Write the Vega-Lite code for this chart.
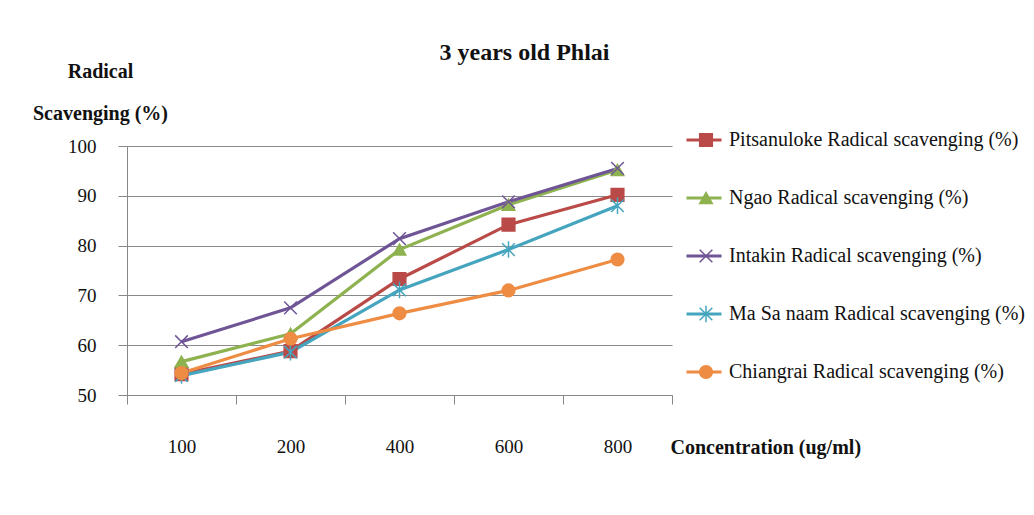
{
  "$schema": "https://vega.github.io/schema/vega-lite/v6.json",
  "width": 545,
  "height": 249,
  "autosize": {"type": "none"},
  "padding": {"left": 127, "top": 146, "right": 362, "bottom": 120},
  "background": "white",
  "config": {
    "view": {"stroke": null},
    "font": "Liberation Serif"
  },
  "title": {
    "text": "3 years old Phlai",
    "font": "Liberation Serif",
    "fontSize": 24,
    "fontWeight": "bold",
    "color": "#111",
    "anchor": "middle",
    "dx": 125,
    "offset": -4
  },
  "data": {
    "values": [
      {"conc": "100", "site": "Pitsanuloke", "series": "Pitsanuloke Radical scavenging (%)", "value": 54.2},
      {"conc": "200", "site": "Pitsanuloke", "series": "Pitsanuloke Radical scavenging (%)", "value": 58.8},
      {"conc": "400", "site": "Pitsanuloke", "series": "Pitsanuloke Radical scavenging (%)", "value": 73.3},
      {"conc": "600", "site": "Pitsanuloke", "series": "Pitsanuloke Radical scavenging (%)", "value": 84.2},
      {"conc": "800", "site": "Pitsanuloke", "series": "Pitsanuloke Radical scavenging (%)", "value": 90.2},
      {"conc": "100", "site": "Ngao", "series": "Ngao Radical scavenging (%)", "value": 56.7},
      {"conc": "200", "site": "Ngao", "series": "Ngao Radical scavenging (%)", "value": 62.3},
      {"conc": "400", "site": "Ngao", "series": "Ngao Radical scavenging (%)", "value": 79.2},
      {"conc": "600", "site": "Ngao", "series": "Ngao Radical scavenging (%)", "value": 88.2},
      {"conc": "800", "site": "Ngao", "series": "Ngao Radical scavenging (%)", "value": 95.2},
      {"conc": "100", "site": "Intakin", "series": "Intakin Radical scavenging (%)", "value": 60.7},
      {"conc": "200", "site": "Intakin", "series": "Intakin Radical scavenging (%)", "value": 67.5},
      {"conc": "400", "site": "Intakin", "series": "Intakin Radical scavenging (%)", "value": 81.4},
      {"conc": "600", "site": "Intakin", "series": "Intakin Radical scavenging (%)", "value": 88.8},
      {"conc": "800", "site": "Intakin", "series": "Intakin Radical scavenging (%)", "value": 95.5},
      {"conc": "100", "site": "Ma Sa naam", "series": "Ma Sa naam Radical scavenging (%)", "value": 53.9},
      {"conc": "200", "site": "Ma Sa naam", "series": "Ma Sa naam Radical scavenging (%)", "value": 58.6},
      {"conc": "400", "site": "Ma Sa naam", "series": "Ma Sa naam Radical scavenging (%)", "value": 71.1},
      {"conc": "600", "site": "Ma Sa naam", "series": "Ma Sa naam Radical scavenging (%)", "value": 79.2},
      {"conc": "800", "site": "Ma Sa naam", "series": "Ma Sa naam Radical scavenging (%)", "value": 88.0},
      {"conc": "100", "site": "Chiangrai", "series": "Chiangrai Radical scavenging (%)", "value": 54.4},
      {"conc": "200", "site": "Chiangrai", "series": "Chiangrai Radical scavenging (%)", "value": 61.3},
      {"conc": "400", "site": "Chiangrai", "series": "Chiangrai Radical scavenging (%)", "value": 66.4},
      {"conc": "600", "site": "Chiangrai", "series": "Chiangrai Radical scavenging (%)", "value": 71.0},
      {"conc": "800", "site": "Chiangrai", "series": "Chiangrai Radical scavenging (%)", "value": 77.2}
    ]
  },
  "encoding": {
    "x": {
      "field": "conc",
      "type": "ordinal",
      "sort": ["100", "200", "400", "600", "800"],
      "scale": {"type": "band", "paddingInner": 0, "paddingOuter": 0},
      "axis": {
        "title": "Concentration (ug/ml)",
        "titleFont": "Liberation Serif",
        "titleFontSize": 20,
        "titleFontWeight": "bold",
        "titleColor": "#111",
        "titleAnchor": "start",
        "titleAlign": "left",
        "titleBaseline": "middle",
        "titleX": 543,
        "titleY": 52,
        "labelAngle": 0,
        "labelFont": "Liberation Serif",
        "labelFontSize": 19,
        "labelColor": "#111",
        "labelPadding": 42,
        "labelBaseline": "middle",
        "tickBand": "extent",
        "tickSize": 9,
        "tickColor": "#888",
        "domainColor": "#888",
        "grid": false
      }
    },
    "y": {
      "field": "value",
      "type": "quantitative",
      "scale": {"domain": [50, 100], "nice": false, "zero": false},
      "axis": {
        "values": [50, 60, 70, 80, 90, 100],
        "title": ["Radical", "Scavenging (%)"],
        "titleAngle": 0,
        "titleFont": "Liberation Serif",
        "titleFontSize": 20,
        "titleFontWeight": "bold",
        "titleColor": "#111",
        "titleAlign": "center",
        "titleBaseline": "alphabetic",
        "titleLineHeight": 42,
        "titleX": -27,
        "titleY": -69,
        "labelFont": "Liberation Serif",
        "labelFontSize": 19,
        "labelColor": "#111",
        "labelPadding": 22,
        "tickSize": 9,
        "tickColor": "#888",
        "domainColor": "#888",
        "grid": true,
        "gridColor": "#8a8a8a",
        "gridWidth": 1
      }
    }
  },
  "layer": [
    {
      "mark": {"type": "line", "strokeWidth": 3.2},
      "encoding": {
        "stroke": {
          "field": "series",
          "type": "nominal",
          "scale": {
            "domain": ["Pitsanuloke Radical scavenging (%)", "Ngao Radical scavenging (%)", "Intakin Radical scavenging (%)", "Ma Sa naam Radical scavenging (%)", "Chiangrai Radical scavenging (%)"],
            "range": ["#B94A48", "#8DB24F", "#6F5596", "#45A5BE", "#EE8C43"]
          },
          "legend": {
            "orient": "none",
            "legendX": 558,
            "legendY": -16,
            "title": null,
            "symbolType": "stroke",
            "symbolSize": 1225,
            "symbolStrokeWidth": 3,
            "labelFont": "Liberation Serif",
            "labelFontSize": 20,
            "labelColor": "#111",
            "labelOffset": 6,
            "clipHeight": 20,
            "rowPadding": 38,
            "labelLimit": 400
          }
        }
      }
    },
    {
      "mark": {"type": "point", "filled": false, "size": 160, "opacity": 1, "strokeWidth": 1.5},
      "encoding": {
        "color": {
          "field": "site",
          "type": "nominal",
          "scale": {
            "domain": ["Pitsanuloke", "Ngao", "Intakin", "Ma Sa naam", "Chiangrai"],
            "range": ["#B94A48", "#8DB24F", "#6F5596", "#45A5BE", "#EE8C43"]
          },
          "legend": {
            "orient": "none",
            "legendX": 569,
            "legendY": -16,
            "title": null,
            "symbolSize": 160,
            "symbolStrokeWidth": 1.5,
            "symbolOpacity": 1,
            "labelExpr": "''",
            "labelFontSize": 20,
            "clipHeight": 20,
            "rowPadding": 38
          }
        },
        "fill": {
          "field": "site",
          "type": "nominal",
          "scale": {
            "domain": ["Pitsanuloke", "Ngao", "Intakin", "Ma Sa naam", "Chiangrai"],
            "range": ["#B94A48", "#8DB24F", "#6F5596", "#45A5BE", "#EE8C43"]
          },
          "legend": {
            "orient": "none",
            "legendX": 569,
            "legendY": -16,
            "title": null,
            "symbolSize": 160,
            "symbolStrokeWidth": 1.5,
            "symbolOpacity": 1,
            "labelExpr": "''",
            "labelFontSize": 20,
            "clipHeight": 20,
            "rowPadding": 38
          }
        },
        "shape": {
          "field": "site",
          "type": "nominal",
          "scale": {
            "domain": ["Pitsanuloke", "Ngao", "Intakin", "Ma Sa naam", "Chiangrai"],
            "range": ["square", "triangle-up", "M-1,-1L1,1M-1,1L1,-1", "M-1,-1L1,1M-1,1L1,-1M0,-1.3L0,1.3", "circle"]
          },
          "legend": {
            "orient": "none",
            "legendX": 569,
            "legendY": -16,
            "title": null,
            "symbolSize": 160,
            "symbolStrokeWidth": 1.5,
            "symbolOpacity": 1,
            "labelExpr": "''",
            "labelFontSize": 20,
            "clipHeight": 20,
            "rowPadding": 38
          }
        }
      }
    }
  ]
}
